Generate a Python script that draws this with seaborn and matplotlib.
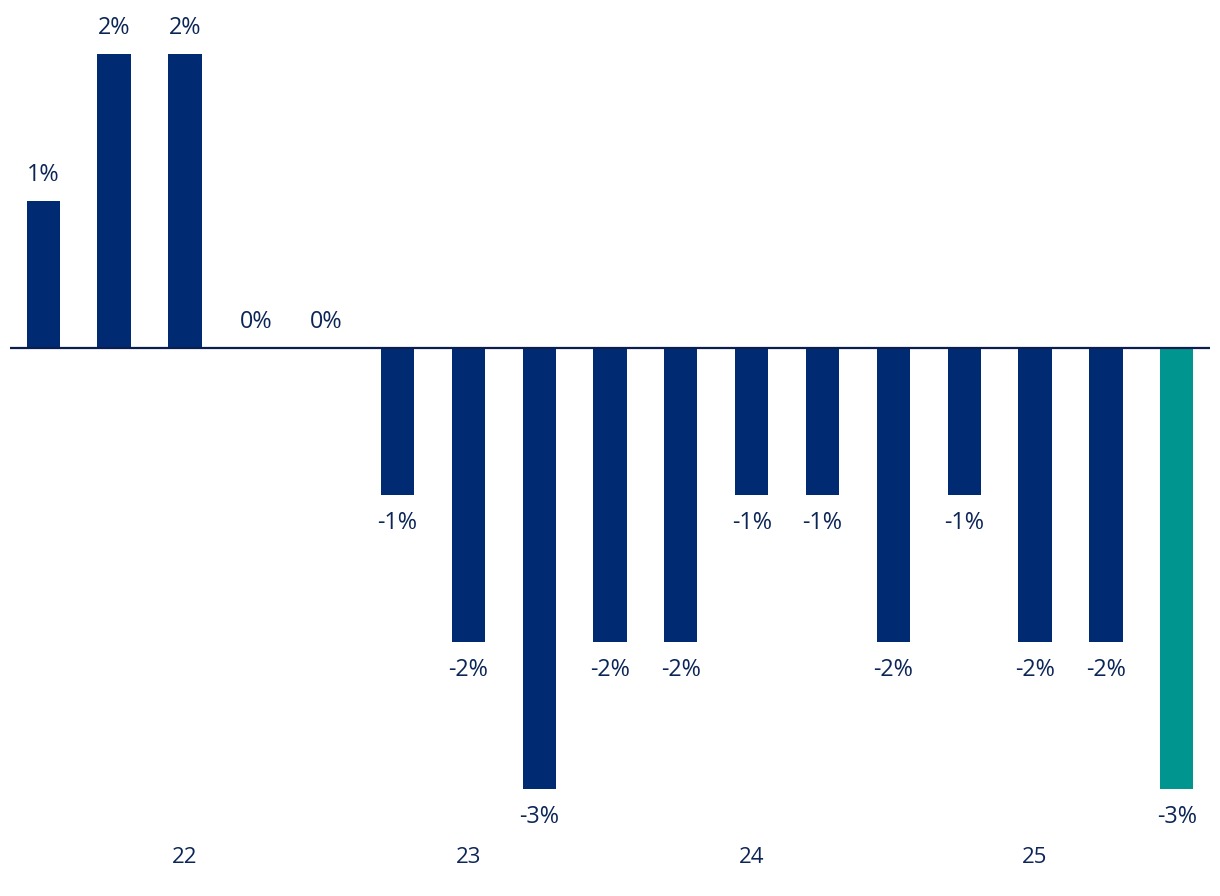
import numpy as np
import pandas as pd
import matplotlib
matplotlib.use("Agg")
import matplotlib.pyplot as plt
import seaborn as sns

# quarterly change, in percent
periods = ["Q3-21", "Q4-21", "Q1-22", "Q2-22", "Q3-22", "Q4-22", "Q1-23", "Q2-23",
           "Q3-23", "Q4-23", "Q1-24", "Q2-24", "Q3-24", "Q4-24", "Q1-25", "Q2-25", "Q3-25"]
values = [1, 2, 2, 0, 0, -1, -2, -3, -2, -2, -1, -1, -2, -1, -2, -2, -3]
year_tick_pos = [2, 6, 10, 14]
year_tick_labels = ["22", "23", "24", "25"]

navy = "#002B73"
teal = "#00968F"
text_col = "#0C2557"
colors = [navy] * (len(values) - 1) + [teal]

sns.set_style("white")
plt.rcParams["font.family"] = ["Open Sans", "DejaVu Sans"]

df = pd.DataFrame({"period": periods, "value": values})

fig = plt.figure(figsize=(12.2, 8.96), dpi=100)
ax = fig.add_axes([10 / 1220, 0.0702, 1200 / 1220, 0.9188])

sns.barplot(data=df, x="period", y="value", hue="period", palette=colors,
            width=0.47, saturation=1, linewidth=0, legend=False, ax=ax)

ax.set_xlim(-0.47, len(values) - 0.53)
ax.set_ylim(-3.3, 2.3)
ax.axhline(0, color="#0A1F4F", lw=1.6, zorder=5)

for i, v in enumerate(values):
    off = 18.5 if v >= 0 else -20.5
    ax.annotate(f"{v}%", (i, v), xytext=(0, off), textcoords="offset points",
                ha="center", va="center", fontsize=16.8, color=text_col)

ax.set_xticks(year_tick_pos)
ax.set_xticklabels(year_tick_labels, fontsize=16, color=text_col)
ax.tick_params(axis="x", length=0, pad=10)
ax.set_yticks([])
ax.set_xlabel("")
ax.set_ylabel("")
sns.despine(ax=ax, left=True, bottom=True)

fig.savefig("out.png", dpi=100)
